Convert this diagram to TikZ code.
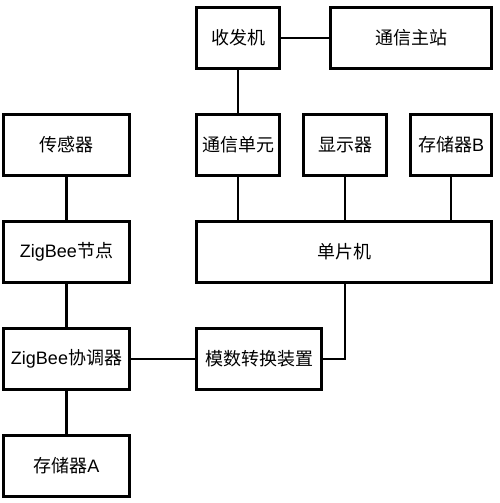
\documentclass[tikz,border=0pt]{standalone}
\usepackage{fontspec}
\setmainfont{Liberation Sans}
\newfontfamily\cjk{Noto Sans CJK SC}

\begin{document}
\begin{tikzpicture}[x=1pt,y=-1pt,
	blk/.style={draw, line width=2.8pt, minimum height=61pt, inner sep=0pt, font=\fontsize{18}{18}\selectfont},
	lnk/.style={line width=2.8pt}]
	\def \hor{ 1 };
	\def \ver{ 1 };
	\useasboundingbox (0,0) rectangle (500,503);
	\node[blk, minimum width=83pt] (trx) at (238*\hor,38*\ver) {\cjk 收发机};
	\node[blk, minimum width=161pt] (master) at (411*\hor,38*\ver) {\cjk 通信主站};
	\node[blk, minimum width=126pt] (sensor) at (66.5*\hor,145*\ver) {\cjk 传感器};
	\node[blk, minimum width=83pt] (comm) at (238*\hor,145*\ver) {\cjk 通信单元};
	\node[blk, minimum width=83pt] (disp) at (345*\hor,145*\ver) {\cjk 显示器};
	\node[blk, minimum width=81pt] (memB) at (451*\hor,145*\ver) {{\cjk 存储器}B};
	\node[blk, minimum width=126pt] (zbnode) at (66.5*\hor,252*\ver) {ZigBee{\cjk 节点}};
	\node[blk, minimum width=295pt] (mcu) at (344*\hor,252*\ver) {\cjk 单片机};
	\node[blk, minimum width=126pt] (zbcoord) at (66.5*\hor,359*\ver) {ZigBee{\cjk 协调器}};
	\node[blk, minimum width=125pt] (adc) at (259*\hor,359*\ver) {\cjk 模数转换装置};
	\node[blk, minimum width=126pt] (memA) at (66.5*\hor,466*\ver) {{\cjk 存储器}A};

	\draw[lnk] (trx) -- (master);
	\draw[lnk] (trx) -- (comm);
	\draw[lnk] (comm) -- (comm |- mcu.north);
	\draw[lnk] (disp) -- (disp |- mcu.north);
	\draw[lnk] (memB) -- (memB |- mcu.north);
	\draw[lnk] (sensor) -- (zbnode);
	\draw[lnk] (zbnode) -- (zbcoord);
	\draw[lnk] (zbcoord) -- (adc);
	\draw[lnk] (zbcoord) -- (memA);
	\draw[lnk] (adc.east) -| (disp |- mcu.south);
\end{tikzpicture}
\end{document}
